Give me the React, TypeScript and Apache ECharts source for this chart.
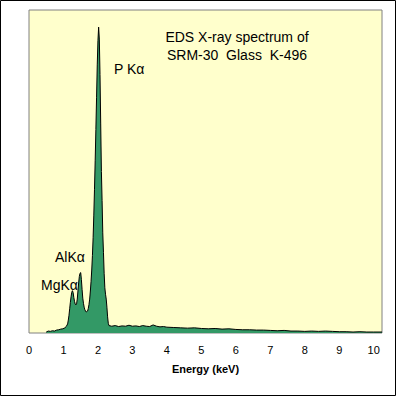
import React, { useEffect, useRef } from "react";
import * as echarts from "echarts";

const energy = [
  0.5, 0.56, 0.62, 0.68, 0.74, 0.8, 0.86, 0.92, 0.98, 1.04, 1.08, 1.12, 1.14, 1.16, 1.18, 1.2,
  1.22, 1.24, 1.26, 1.28, 1.3, 1.32, 1.34, 1.36, 1.38, 1.4, 1.42, 1.44, 1.46, 1.48, 1.5, 1.52,
  1.54, 1.56, 1.58, 1.6, 1.62, 1.64, 1.66, 1.68, 1.7, 1.72, 1.74, 1.76, 1.78, 1.8, 1.82, 1.84,
  1.86, 1.88, 1.9, 1.92, 1.94, 1.96, 1.98, 2.0, 2.02, 2.04, 2.06, 2.08, 2.1, 2.12, 2.14, 2.16,
  2.18, 2.2, 2.22, 2.24, 2.26, 2.28, 2.3, 2.32, 2.4, 2.5, 2.6, 2.7, 2.8, 2.9, 3.0, 3.1, 3.2,
  3.3, 3.4, 3.5, 3.6, 3.7, 3.8, 3.9, 4.0, 4.2, 4.4, 4.6, 4.8, 5.0, 5.2, 5.4, 5.6, 5.8, 6.0,
  6.2, 6.4, 6.6, 6.8, 7.0, 7.2, 7.4, 7.6, 7.8, 8.0, 8.2, 8.4, 8.6, 8.8, 9.0, 9.2, 9.4, 9.6,
  9.8, 10.0, 10.24,
];

const counts = [
  0.3, 0.6, 0.5, 0.7, 0.6, 0.9, 1.0, 1.2, 1.3, 1.6, 2.0, 2.8, 4.0, 5.5, 7.5, 9.5,
  11.2, 12.6, 13.1, 12.5, 11.0, 9.8, 9.0, 8.7, 9.0, 10.5, 13.0, 15.5, 17.5, 18.5, 18.7, 16.5,
  13.5, 10.8, 9.2, 8.0, 7.2, 6.8, 6.5, 6.5, 6.8, 7.6, 8.8, 10.5, 13.0, 16.0, 19.5, 24.0,
  29.5, 36.5, 44.5, 53.5, 63.0, 73.0, 83.0, 90.5, 94.7, 91.0, 80.0, 65.0, 50.0, 41.0, 31.0, 25.0,
  18.5, 14.0, 12.0, 10.5, 8.0, 5.0, 3.0, 2.3, 2.1, 2.3, 2.0, 2.2, 2.1, 2.4, 2.1, 2.2, 2.0,
  2.3, 2.1, 2.0, 2.5, 2.1, 1.9, 2.0, 1.8, 1.7, 1.6, 1.5, 1.6, 1.4, 1.3, 1.4, 1.2, 1.3, 1.1,
  1.0, 1.0, 0.9, 0.9, 0.8, 0.7, 0.8, 0.6, 0.6, 0.5, 0.6, 0.5, 0.6, 0.5, 0.4, 0.4, 0.3, 0.4,
  0.3, 0.3, 0.3,
];

const titleLines = ["EDS X-ray spectrum of", "SRM-30  Glass  K-496"];
const peakLabels = ["P Kα", "AlKα", "MgKα"];
const xAxisName = "Energy (keV)";

export default function App() {
  const ref = useRef<HTMLDivElement>(null);
  useEffect(() => {
    if (!ref.current) return;
    const chart = echarts.init(ref.current, undefined, { renderer: "svg" });
    const font = "'Liberation Sans', Arial, sans-serif";
    const data = energy.map((e, i) => [e, counts[i]]);
    chart.setOption({
      animation: false,
      backgroundColor: "#ffffff",
      grid: {
        left: 29,
        top: 10,
        width: 353,
        height: 323,
        show: true,
        backgroundColor: "#FFFFCC",
        borderColor: "#808080",
        borderWidth: 1,
      },
      xAxis: {
        type: "value",
        min: 0,
        max: 10.24,
        interval: 1,
        axisLine: { show: false },
        axisTick: { show: false },
        splitLine: { show: false },
        axisLabel: {
          showMaxLabel: false,
          color: "#000",
          fontFamily: font,
          fontSize: 11,
          margin: 11,
        },
        name: xAxisName,
        nameLocation: "middle",
        nameGap: 30,
        nameTextStyle: { color: "#000", fontFamily: font, fontSize: 11, fontWeight: "bold" },
      },
      yAxis: {
        type: "value",
        min: 0,
        max: 100,
        show: false,
      },
      series: [
        {
          type: "line",
          data,
          symbol: "none",
          lineStyle: { color: "#000", width: 1 },
          areaStyle: { color: "#339966", opacity: 1 },
          z: 2,
        },
      ],
      graphic: [
        {
          type: "rect",
          shape: { x: 0.5, y: 0.5, width: 395, height: 395 },
          style: { fill: "none", stroke: "#000", lineWidth: 1 },
          silent: true,
        },
        {
          type: "text",
          x: 237,
          y: 37,
          style: { text: titleLines[0], font: `14px ${font}`, fill: "#000", align: "center", verticalAlign: "middle" },
        },
        {
          type: "text",
          x: 237,
          y: 55,
          style: { text: titleLines[1], font: `14px ${font}`, fill: "#000", align: "center", verticalAlign: "middle" },
        },
        {
          type: "text",
          x: 114,
          y: 69,
          style: { text: peakLabels[0], font: `14px ${font}`, fill: "#000", align: "left", verticalAlign: "middle" },
        },
        {
          type: "text",
          x: 55,
          y: 257,
          style: { text: peakLabels[1], font: `14px ${font}`, fill: "#000", align: "left", verticalAlign: "middle" },
        },
        {
          type: "text",
          x: 41,
          y: 285,
          style: { text: peakLabels[2], font: `14px ${font}`, fill: "#000", align: "left", verticalAlign: "middle" },
        },
      ],
    });
    return () => chart.dispose();
  }, []);
  return (
    <div
      ref={ref}
      style={{ position: "fixed", left: 0, top: 0, width: 396, height: 396 }}
    />
  );
}
